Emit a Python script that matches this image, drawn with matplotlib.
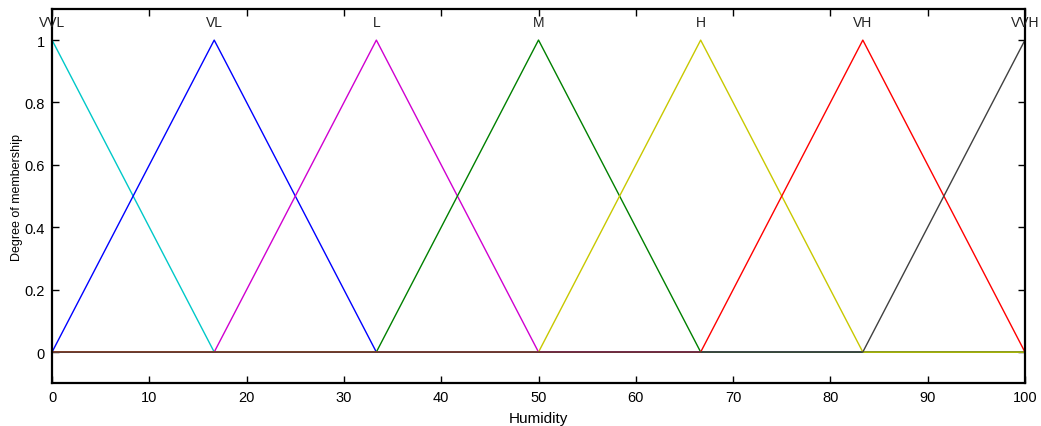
import numpy as np
import matplotlib
matplotlib.use("Agg")
import matplotlib.pyplot as plt

plt.rcParams['font.family'] = ['Liberation Sans', 'DejaVu Sans']

# Membership function names and triangle parameters (left foot, peak, right foot)
mf_names = ["VVL", "VL", "L", "M", "H", "VH", "VVH"]
mf_left = [-16.67, 0.0, 16.67, 33.33, 50.0, 66.67, 83.33]
mf_peak = [0.0, 16.67, 33.33, 50.0, 66.67, 83.33, 100.0]
mf_right = [16.67, 33.33, 50.0, 66.67, 83.33, 100.0, 116.67]
mf_colors = ["#00c8c8", "#0000ff", "#d000d0", "#008000", "#c8c800", "#ff0000", "#404040"]

x_ticks = [0, 10, 20, 30, 40, 50, 60, 70, 80, 90, 100]
y_ticks = [0, 0.2, 0.4, 0.6, 0.8, 1]
y_tick_labels = ["0", "0.2", "0.4", "0.6", "0.8", "1"]

fig = plt.figure(figsize=(10.41, 4.27), dpi=100)
ax = fig.add_axes([0.05, 0.1, 0.9346, 0.877])

x = np.linspace(0, 100, 181)
for name, a, b, c, col in zip(mf_names, mf_left, mf_peak, mf_right, mf_colors):
    y = np.interp(x, [a, b, c], [0, 1, 0])
    ax.plot(x, y, color=col, lw=1.0)
    ax.text(b, 1.035, name, ha='center', va='bottom', fontsize=10, color='#222222')

ax.set_xlim(0, 100)
ax.set_ylim(-0.1, 1.1)
ax.set_xticks(x_ticks)
ax.set_yticks(y_ticks)
ax.set_yticklabels(y_tick_labels)
ax.tick_params(direction='in', top=True, right=True, length=5, width=1,
               labelsize=10.5, pad=5)
for s in ax.spines.values():
    s.set_linewidth(1.6)
ax.set_xlabel("Humidity", fontsize=11, labelpad=5)
ax.set_ylabel("Degree of membership", fontsize=9, labelpad=1)

fig.savefig("out.png", dpi=100)
